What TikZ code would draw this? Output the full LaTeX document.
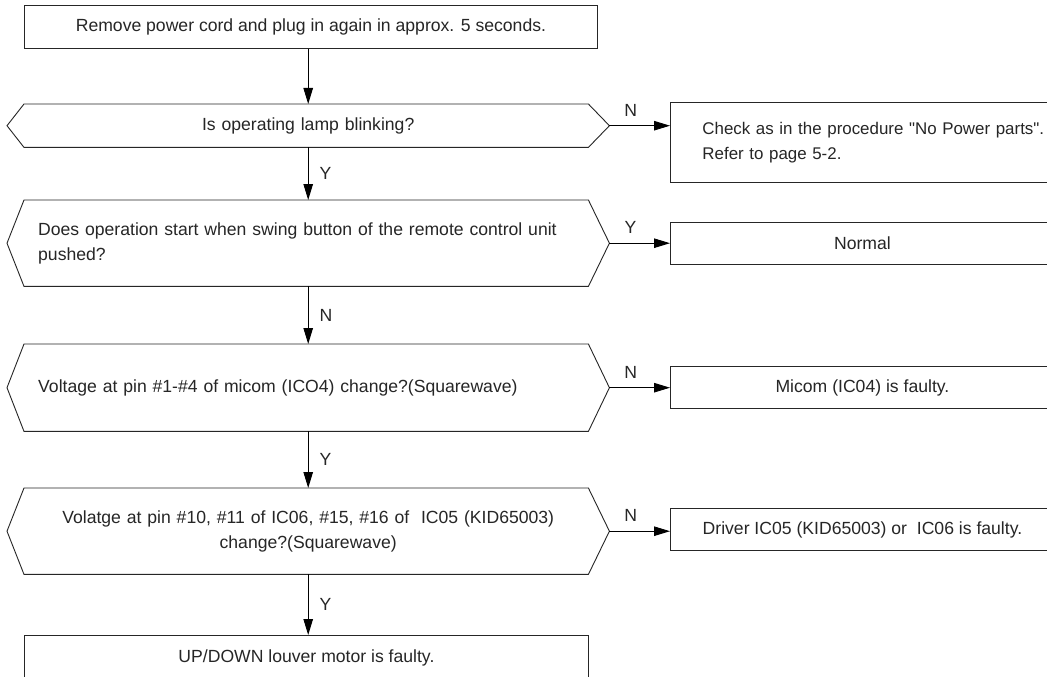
\documentclass[tikz,border=0pt]{standalone}
\usepackage{fontspec}
\setmainfont{Liberation Sans}
\newfontfamily\qfont{Liberation Sans}
\usetikzlibrary{arrows.meta,calc}
\newcommand{\dq}{{\qfont"}}
\begin{document}
\begin{tikzpicture}[x=1pt,y=-1pt,
  font=\fontsize{17.6}{25.5}\selectfont,
  every node/.style={text=black!85},
  box/.style={draw=black!85, line width=0.9pt, inner sep=0pt, anchor=north west},
  hexn/.style={inner ysep=0pt, inner xsep=31pt, text width=540pt, anchor=north west},
  hexline/.style={draw=black!85, line width=0.9pt},
  arr/.style={draw=black, line width=0.9pt, -{Triangle[length=16pt,width=9.5pt]}},
  lbl/.style={inner sep=0pt, font=\fontsize{17.6}{20}\selectfont},
]
\useasboundingbox (0,0) rectangle (1047,677);
\clip (0,0) rectangle (1047,677);
\fill[white] (0,0) rectangle (1047,677);

\node[box, minimum width=573pt, minimum height=43pt] (top) at (24,5) {Remove power cord and plug in again in approx. 5 seconds.};
\node[hexn, align=center, minimum height=43pt] (h1) at (7,104) {Is operating lamp blinking?};
\node[hexn, align=left, minimum height=86pt] (h2) at (7,200) {Does operation start when swing button of the remote control unit\\pushed?};
\node[hexn, align=left, minimum height=87pt] (h3) at (7,344) {Voltage at pin \#1-\#4 of micom (ICO4) change?(Squarewave)};
\node[hexn, align=center, minimum height=86pt] (h4) at (7,488) {Volatge at pin \#10, \#11 of IC06, \#15, \#16 of\ \ IC05 (KID65003)\\change?(Squarewave)};
\node[box, minimum width=564pt, minimum height=44pt] (fin) at (24,635) {UP/DOWN louver motor is faulty.};

\node[box, minimum height=80pt, text width=380pt, inner xsep=32pt, align=left, font=\fontsize{16.9}{25}\selectfont] (chk) at (670,102) {Check as in the procedure \dq No Power parts\dq.\\Refer to page 5-2.};
\node[box, minimum width=384pt, minimum height=42pt] (nor) at (670,222) {Normal};
\node[box, minimum width=384pt, minimum height=42pt] (mic) at (670,366) {Micom (IC04) is faulty.};
\node[box, minimum width=384pt, minimum height=42pt] (drv) at (670,508) {Driver IC05 (KID65003) or\ \ IC06 is faulty.};

\foreach \h in {h1,h2,h3,h4}
  \draw[hexline] (\h.west) -- ($(\h.north west)+(17,0)$) -- ($(\h.north east)+(-21,0)$) -- (\h.east) -- ($(\h.south east)+(-21,0)$) -- ($(\h.south west)+(17,0)$) -- cycle;

\draw[arr] (h1.north |- top.south) -- (h1.north);
\draw[arr] (h1.south) -- node[lbl, right=11pt]{Y} (h2.north);
\draw[arr] (h2.south) -- node[lbl, right=11pt]{N} (h3.north);
\draw[arr] (h3.south) -- node[lbl, right=11pt]{Y} (h4.north);
\draw[arr] (h4.south) -- node[lbl, right=11pt]{Y} (h4.south |- fin.north);

\draw[arr] (h1.east) -- node[lbl, pos=0.35, above=9pt]{N} (h1.east -| chk.west);
\draw[arr] (h2.east) -- node[lbl, pos=0.35, above=9pt]{Y} (h2.east -| nor.west);
\draw[arr] (h3.east) -- node[lbl, pos=0.35, above=9pt]{N} (h3.east -| mic.west);
\draw[arr] (h4.east) -- node[lbl, pos=0.35, above=9pt]{N} (h4.east -| drv.west);
\end{tikzpicture}
\end{document}
